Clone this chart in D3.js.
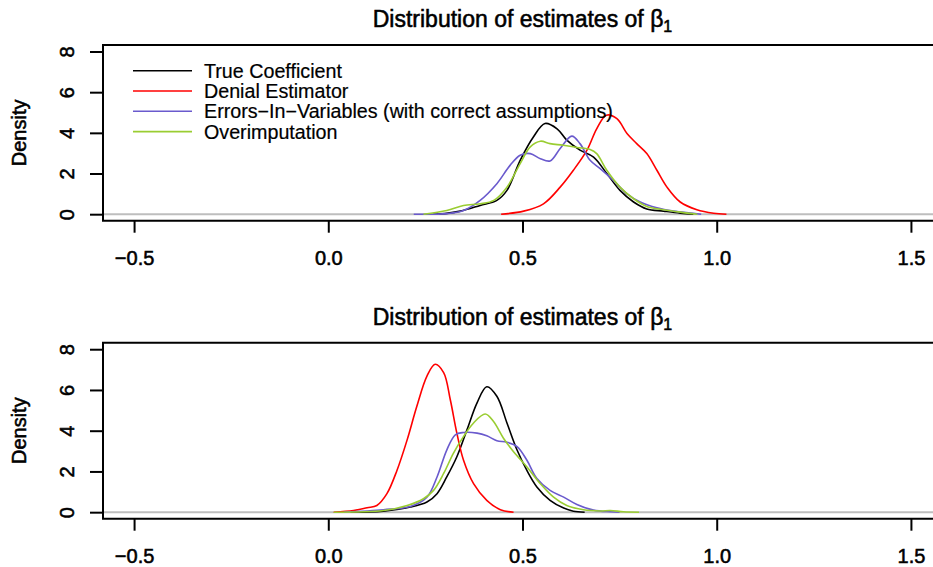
<!DOCTYPE html>
<html>
<head>
<meta charset="utf-8">
<script src="https://cdn.jsdelivr.net/npm/d3@7"></script>
<style>
  html, body { margin: 0; padding: 0; background: #fff; }
  svg { display: block; font-family: "Liberation Sans", Arial, Helvetica, sans-serif; }
</style>
</head>
<body>
<svg id="chart" width="933" height="567"></svg>
<script>
// ---------- data ----------
const seriesNames = ["True Coefficient", "Denial Estimator", "Errors\u2212In\u2212Variables (with correct assumptions)", "Overimputation"];
const seriesColors = ["#000000", "#FF0000", "#6A5ACD", "#9ACD32"];
const xTicks = [-0.5, 0.0, 0.5, 1.0, 1.5];
const xTickLabels = ["\u22120.5", "0.0", "0.5", "1.0", "1.5"];
const yTicks = [0, 2, 4, 6, 8];
const titleText = "Distribution of estimates of ";

// Panel 1 densities: [x, density]
const top_true = [[0.27,0],[0.30,0.03],[0.34,0.15],[0.391,0.43],[0.434,0.68],[0.46,1.17],[0.494,2.65],[0.528,3.8],[0.558,4.46],[0.589,4.2],[0.614,3.64],[0.648,3.15],[0.683,2.81],[0.717,2.0],[0.751,1.17],[0.786,0.6],[0.82,0.26],[0.863,0.15],[0.906,0.05],[0.94,0]];
const top_denial = [[0.445,0],[0.503,0.15],[0.554,0.51],[0.597,1.33],[0.631,2.16],[0.666,3.15],[0.691,4.2],[0.716,4.87],[0.743,4.7],[0.769,3.97],[0.794,3.47],[0.82,2.98],[0.846,2.16],[0.872,1.33],[0.906,0.6],[0.949,0.22],[0.992,0.05],[1.025,0]];
const top_eiv = [[0.22,0],[0.305,0.03],[0.348,0.18],[0.391,0.68],[0.434,1.5],[0.468,2.4],[0.494,2.9],[0.52,2.98],[0.546,2.73],[0.571,2.62],[0.597,3.23],[0.627,3.84],[0.648,3.47],[0.674,2.65],[0.70,2.24],[0.734,1.66],[0.769,1.0],[0.803,0.6],[0.846,0.31],[0.889,0.15],[0.94,0.05],[0.96,0]];
const top_over = [[0.245,0],[0.305,0.18],[0.348,0.43],[0.391,0.51],[0.426,0.68],[0.46,1.33],[0.494,2.49],[0.52,3.31],[0.546,3.59],[0.571,3.47],[0.605,3.39],[0.64,3.28],[0.674,3.18],[0.691,2.98],[0.717,2.16],[0.751,1.33],[0.786,0.76],[0.82,0.38],[0.863,0.22],[0.906,0.1],[0.95,0]];

// Panel 2 densities
const bot_true = [[0.057,0],[0.142,0.05],[0.211,0.25],[0.254,0.5],[0.28,0.91],[0.305,1.73],[0.331,2.72],[0.357,4.04],[0.383,5.37],[0.408,6.16],[0.434,5.69],[0.46,4.38],[0.486,3.05],[0.511,2.06],[0.537,1.24],[0.571,0.58],[0.606,0.2],[0.631,0.05],[0.66,0]];
const bot_denial = [[0.014,0],[0.065,0.08],[0.10,0.22],[0.125,0.33],[0.151,0.91],[0.177,2.06],[0.203,3.55],[0.228,5.2],[0.254,6.68],[0.275,7.26],[0.297,6.85],[0.314,5.53],[0.331,3.88],[0.348,2.56],[0.374,1.4],[0.408,0.58],[0.443,0.12],[0.477,0]];
const bot_eiv = [[0.04,0],[0.142,0.12],[0.211,0.28],[0.254,0.74],[0.28,1.73],[0.305,3.05],[0.327,3.8],[0.348,3.91],[0.383,3.88],[0.408,3.75],[0.434,3.51],[0.46,3.43],[0.486,3.22],[0.511,2.56],[0.537,1.65],[0.571,1.07],[0.606,0.74],[0.64,0.38],[0.683,0.1],[0.726,0.02],[0.75,0]];
const bot_over = [[0.014,0],[0.142,0.08],[0.203,0.33],[0.245,0.66],[0.271,1.07],[0.297,1.9],[0.322,2.89],[0.348,3.71],[0.374,4.38],[0.404,4.82],[0.425,4.46],[0.451,3.63],[0.477,2.97],[0.511,2.23],[0.546,1.4],[0.58,0.74],[0.614,0.33],[0.657,0.12],[0.70,0.06],[0.726,0.08],[0.76,0.02],[0.80,0]];

const panels = [
  { top: 45, bottom: 220.7, series: [top_true, top_denial, top_eiv, top_over], legend: true },
  { top: 342.7, bottom: 518.7, series: [bot_true, bot_denial, bot_eiv, bot_over], legend: false }
];

// ---------- drawing ----------
const svg = d3.select("#chart");
const left = 103, right = 942;
const x = d3.scaleLinear().domain([-0.58, 1.58]).range([left, right]);

function heavy(sel) {
  return sel.attr("fill", "#000").attr("stroke", "#000").attr("stroke-width", 0.55).attr("paint-order", "stroke");
}

panels.forEach(p => {
  const y = d3.scaleLinear().domain([-0.32, 8.32]).range([p.bottom, p.top]);
  const g = svg.append("g");

  // gray zero line
  g.append("line")
    .attr("x1", left).attr("x2", right)
    .attr("y1", y(0)).attr("y2", y(0))
    .attr("stroke", "#BEBEBE").attr("stroke-width", 2);

  // curves
  const line = d3.line().x(d => x(d[0])).y(d => y(d[1])).curve(d3.curveCatmullRom.alpha(0.5));
  p.series.forEach((s, i) => {
    g.append("path").datum(s)
      .attr("d", line)
      .attr("fill", "none")
      .attr("stroke", seriesColors[i])
      .attr("stroke-width", 1.6);
  });

  // box (left, top, bottom)
  g.append("path")
    .attr("d", `M${right},${p.top}H${left}V${p.bottom}H${right}`)
    .attr("fill", "none").attr("stroke", "#000").attr("stroke-width", 2);

  // x axis
  const xa = g.append("g").attr("transform", `translate(0,${p.bottom})`)
    .call(d3.axisBottom(x).tickValues(xTicks).tickSize(12).tickFormat((d, i) => xTickLabels[i]));
  xa.select(".domain").remove();
  xa.selectAll("line").attr("stroke", "#000").attr("stroke-width", 2);
  heavy(xa.selectAll("text").attr("font-size", 20)
    .attr("dy", null).attr("y", 44.5));

  // y axis
  const ya = g.append("g").attr("transform", `translate(${left},0)`)
    .call(d3.axisLeft(y).tickValues(yTicks).tickSize(12).tickFormat(d3.format("d")));
  ya.select(".domain").remove();
  ya.selectAll("line").attr("stroke", "#000").attr("stroke-width", 2).attr("x2", -13);
  heavy(ya.selectAll("text").attr("font-size", 20)
    .attr("x", null).attr("dy", null)
    .attr("text-anchor", "middle")
    .attr("transform", "translate(-36,0) rotate(-90)")
    .attr("y", 7));

  // y label
  heavy(g.append("text")
    .attr("transform", `translate(19,${(p.top + p.bottom) / 2}) rotate(-90)`)
    .attr("text-anchor", "middle").attr("y", 7)
    .attr("font-size", 20)
    .text("Density"));

  // title
  const t = heavy(g.append("text")
    .attr("x", (left + right) / 2).attr("y", p.top - 18)
    .attr("text-anchor", "middle")
    .attr("font-size", 23));
  t.append("tspan").text(titleText + "\u03B2");
  t.append("tspan").attr("font-size", 16).attr("dy", 5).text("1");

  // legend
  if (p.legend) {
    const lg = g.append("g");
    seriesNames.forEach((name, i) => {
      const yy = 70.7 + i * 20.3;
      lg.append("line").attr("x1", 133).attr("x2", 192).attr("y1", yy).attr("y2", yy)
        .attr("stroke", seriesColors[i]).attr("stroke-width", 1.6);
      lg.append("text").attr("x", 204).attr("y", yy + 7)
        .attr("font-size", 19.7).attr("fill", "#000")
        .attr("stroke", "#000").attr("stroke-width", 0.2)
        .text(name);
    });
  }
});
</script>
</body>
</html>
